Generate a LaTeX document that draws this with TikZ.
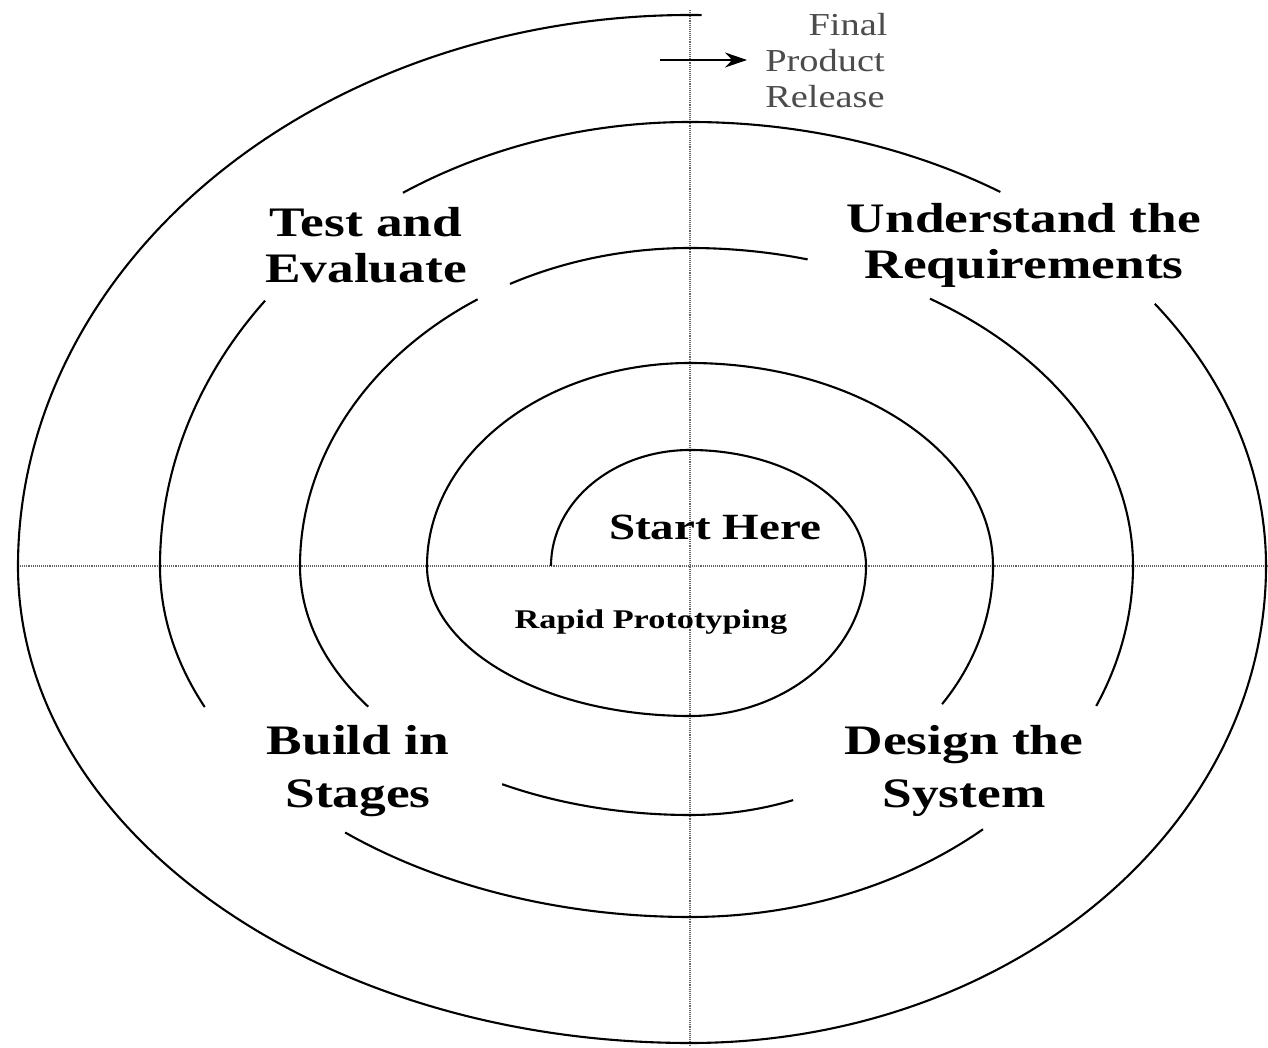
\documentclass[tikz,border=0pt]{standalone}
\usepackage{fontspec}
\setmainfont{Liberation Serif}
\usetikzlibrary{arrows.meta}
\newcommand\qarc[4]{\draw[spiral] ([shift={({#1*cos(#3)},{#2*sin(#3)})}]C) arc[start angle=#3,end angle=#4,x radius=#1pt,y radius=#2pt];}
\tikzset{
  spiral/.style={line width=2.1pt,black},
  axis/.style={densely dotted,line width=1.1pt,black!60},
  phase/.style={font=\bfseries\fontsize{42}{46}\selectfont,align=center,xscale=1.27,inner sep=0pt},
  inner/.style={font=\bfseries\fontsize{37}{40}\selectfont,xscale=1.27,inner sep=0pt},
  small/.style={font=\bfseries\fontsize{27}{30}\selectfont,xscale=1.27,inner sep=0pt},
  release/.style={font=\fontsize{32}{36}\selectfont,align=center,xscale=1.2,inner sep=0pt,text=black!70}
}
\begin{document}
\begin{tikzpicture}[x=1pt,y=1pt]
\fill[white] (0,0) rectangle (1268,1047);
\useasboundingbox (0,0) rectangle (1268,1047);
\coordinate (C) at (690,481);
% axes
\coordinate (hL) at (20,481);
\coordinate (hR) at (1268,481);
\coordinate (vT) at (690,1037);
\coordinate (vB) at (690,0);
\draw[axis] (hL) -- (hR);
\draw[axis] (vT) -- (vB);
% loop 1
\qarc{139}{116}{180}{90}
\qarc{176}{116}{90}{0}
\qarc{176}{150}{0}{-90}
\qarc{263}{150}{-90}{-180}
% loop 2
\qarc{263}{203}{180}{90}
\qarc{303}{203}{90}{0}
\qarc{303}{249}{0}{-33.7}
\qarc{303}{249}{-70.1}{-90}
\qarc{390}{249}{-90}{-118.8}
\qarc{390}{249}{-145.6}{-180}
% loop 3
\qarc{390}{318}{180}{123}
\qarc{390}{318}{117.5}{90}
\qarc{443}{318}{90}{74.6}
\qarc{443}{318}{57.2}{0}
\qarc{443}{351}{0}{-23.5}
\qarc{443}{351}{-48.6}{-90}
\qarc{530}{351}{-90}{-130.6}
\qarc{530}{351}{-156.3}{-180}
% loop 4
\qarc{530}{444}{180}{143.3}
\qarc{530}{444}{122.8}{90}
\qarc{576}{444}{90}{57.4}
\qarc{576}{444}{36.2}{0}
\qarc{576}{477}{0}{-90}
\qarc{672}{477}{-90}{-180}
% loop 5
\qarc{672}{551}{180}{89}
% labels
\node[phase] (test) at (366,802) {Test and\\Evaluate};
\node[phase] (under) at (1024,802) {Understand the\\Requirements};
\node[phase,font=\bfseries\fontsize{42}{53}\selectfont] (build) at (358,276) {Build in\\Stages};
\node[phase,font=\bfseries\fontsize{42}{53}\selectfont] (design) at (964,276) {Design the\\System};
\node[inner] (start) at (715,520) {Start Here};
\node[small] (rapid) at (651,425) {Rapid Prototyping};
\node[release] (final) at (825,986) {\hspace*{1.2em}Final\\Product\\Release};
\coordinate (arrS) at (660,987);
\coordinate (arrE) at (747,987);
\draw[line width=1.5pt,-{Stealth[length=22pt,width=15pt]}] (arrS) -- (arrE);
\end{tikzpicture}
\end{document}
